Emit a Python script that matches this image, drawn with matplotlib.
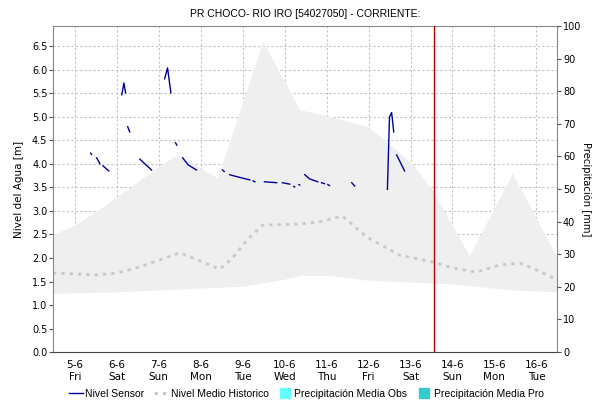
import numpy as np
import matplotlib
matplotlib.use('Agg')
import matplotlib.pyplot as plt
from matplotlib.lines import Line2D

# Días de junio (posición decimal en el eje x)
dias_tick = list(range(5, 17))
etiquetas_tick = ["5-6\nFri", "6-6\nSat", "7-6\nSun", "8-6\nMon", "9-6\nTue", "10-6\nWed",
                  "11-6\nThu", "12-6\nFri", "13-6\nSat", "14-6\nSun", "15-6\nMon", "16-6\nTue"]

# Banda histórica (máximo / mínimo)
banda_x_sup = [4.48, 5.0, 5.6, 6.0, 7.0, 7.45, 8.4, 9.48, 10.36, 10.9, 11.95, 12.26, 13.05, 13.52, 14.4, 15.43, 16.5]
banda_sup = [2.5, 2.7, 3.05, 3.3, 3.95, 4.2, 3.7, 6.6, 5.15, 5.05, 4.8, 4.6, 4.0, 3.45, 2.05, 3.8, 2.0]
banda_x_inf = [4.48, 6.0, 7.0, 9.0, 10.0, 10.36, 11.07, 11.95, 14.0, 15.43, 16.5]
banda_inf = [1.25, 1.28, 1.32, 1.4, 1.55, 1.63, 1.63, 1.53, 1.45, 1.32, 1.28]

# Nivel medio histórico
medio_x = [4.48, 5.52, 6.0, 6.55, 7.02, 7.5, 7.98, 8.45, 8.76, 9.1, 9.48, 10.36, 10.83, 11.38,
           11.95, 12.74, 13.52, 14.0, 14.57, 15.12, 15.6, 15.9, 16.5]
medio_y = [1.68, 1.64, 1.68, 1.81, 1.96, 2.11, 1.94, 1.76, 2.0, 2.38, 2.70, 2.72, 2.77, 2.89,
           2.45, 2.06, 1.92, 1.79, 1.70, 1.85, 1.89, 1.79, 1.53]

# Nivel del sensor (tramos separados por huecos)
sensor_x = [5.38, 5.40, np.nan,
            5.52, 5.60, np.nan,
            5.67, 5.81, np.nan,
            6.12, 6.17, 6.21, np.nan,
            6.26, 6.31, np.nan,
            6.55, 6.83, np.nan,
            7.14, 7.21, 7.29, np.nan,
            7.40, 7.43, np.nan,
            7.57, 7.70, 7.90, np.nan,
            8.52, 8.56, np.nan,
            8.69, 8.90, 9.17, np.nan,
            9.25, 9.29, np.nan,
            9.52, 9.81, np.nan,
            9.95, 10.12, np.nan,
            10.22, 10.24, np.nan,
            10.34, 10.36, np.nan,
            10.48, 10.60, 10.79, np.nan,
            10.88, 10.95, np.nan,
            11.03, 11.07, np.nan,
            11.60, 11.67, np.nan,
            12.45, 12.47, 12.50, 12.55, 12.57, 12.60, np.nan,
            12.67, 12.86]
sensor_y = [4.23, 4.20, np.nan,
            4.13, 4.00, np.nan,
            3.96, 3.85, np.nan,
            5.47, 5.72, 5.51, np.nan,
            4.79, 4.68, np.nan,
            4.10, 3.87, np.nan,
            5.81, 6.04, 5.51, np.nan,
            4.45, 4.40, np.nan,
            4.13, 3.98, 3.87, np.nan,
            3.87, 3.84, np.nan,
            3.77, 3.72, 3.66, np.nan,
            3.64, 3.62, np.nan,
            3.62, 3.60, np.nan,
            3.60, 3.57, np.nan,
            3.52, 3.51, np.nan,
            3.56, 3.55, np.nan,
            3.77, 3.68, 3.62, np.nan,
            3.60, 3.58, np.nan,
            3.56, 3.54, np.nan,
            3.60, 3.53, np.nan,
            3.46, 4.10, 5.00, 5.09, 4.94, 4.68, np.nan,
            4.19, 3.85]

ahora = 13.55

fig = plt.figure(figsize=(5.92, 4.01), dpi=100)
ax = fig.add_axes([0.0895, 0.122, 0.852, 0.813])
plt.rcParams['font.family'] = ['DejaVu Sans']

ax.fill_between(banda_x_sup, banda_sup, 0, color='#efefef', lw=0, zorder=1)
ax.fill_between(banda_x_inf, banda_inf, 0, color='white', lw=0, zorder=1.1)

ax.plot(medio_x, medio_y, color='#c8c8c8', lw=2, ls=(0, (1.2, 1.8)), zorder=2)
ax.plot(sensor_x, sensor_y, color='#000099', lw=1.0, zorder=3)
ax.axvline(ahora, color='#c00000', lw=1, zorder=4)

ax.set_xlim(4.48, 16.5)
ax.set_ylim(0, 6.93)
ax.set_yticks(np.arange(0, 6.6, 0.5))
ax.set_yticklabels([f"{v:.1f}" for v in np.arange(0, 6.6, 0.5)])
ax.set_xticks(dias_tick)
ax.set_xticklabels(etiquetas_tick)
ax.grid(True, color='#c4c4c4', ls=(0, (2, 2)), lw=0.8, zorder=0)
ax.set_axisbelow(True)
ax.tick_params(axis='y', labelsize=7, length=3, color='#555555', pad=1)
ax.tick_params(axis='x', labelsize=7.5, length=0, pad=6)

for s in ['left', 'top', 'right']:
    ax.spines[s].set_color('#888888')
ax.spines['bottom'].set_color('#444444')
ax.spines['bottom'].set_linestyle((0, (1, 1)))
ax.set_ylabel("Nivel del Agua [m]", fontsize=7.5, labelpad=6)

ax2 = ax.twinx()
ax2.set_ylim(0, 100)
ax2.set_yticks(range(0, 101, 10))
ax2.tick_params(axis='y', labelsize=7, length=3, color='#555555', pad=1)
for s in ax2.spines.values():
    s.set_visible(False)
ax2.set_ylabel("Precipitación [mm]", fontsize=7.2, rotation=270, va='center')
ax2.yaxis.set_label_coords(1.058, 0.5)

fig.suptitle("PR CHOCO- RIO IRO [54027050] - CORRIENTE:", x=0.515, y=0.978,
             fontsize=7.5, family='Liberation Sans')

handles = [
    Line2D([], [], color='#000099', lw=1.0),
    Line2D([], [], color='#c8c8c8', lw=2, ls=(0, (1.2, 1.8))),
    Line2D([], [], color='#66ffff', ls='', marker='s', markersize=7),
    Line2D([], [], color='#33cccc', ls='', marker='s', markersize=7),
]
labels = ["Nivel Sensor", "Nivel Medio Historico", "Precipitación Media Obs", "Precipitación Media Pro"]
fig.legend(handles, labels, loc='center', bbox_to_anchor=(0.517, 0.018), ncol=4, frameon=False,
           prop={'family': 'Liberation Sans', 'size': 7.5}, handlelength=1.4,
           handletextpad=0.2, columnspacing=0.9)

fig.savefig('out.png', dpi=100)
